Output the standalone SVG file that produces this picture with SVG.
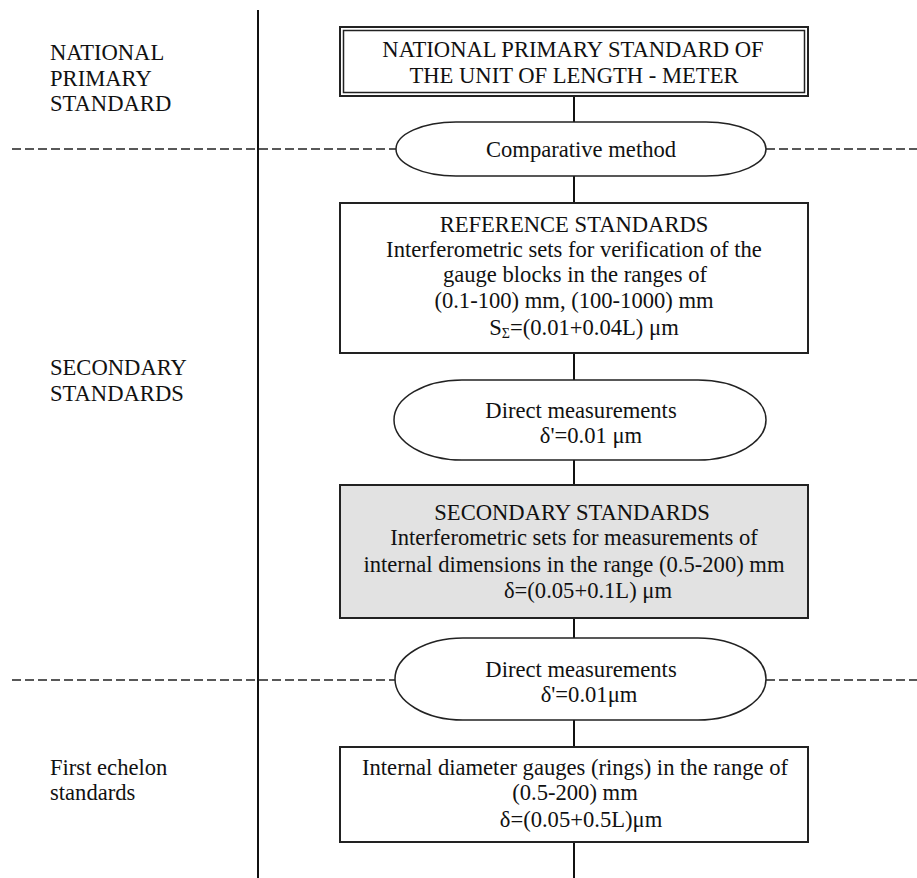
<svg xmlns="http://www.w3.org/2000/svg" width="917" height="878" viewBox="0 0 917 878" font-family="'Liberation Serif', 'Times New Roman', Times, 'DejaVu Serif', serif">
<style>
text{font-family:"Liberation Serif","Times New Roman",Times,"DejaVu Serif",serif;font-size:22.6px;fill:#111}
.c{text-anchor:middle}
.box{fill:#fff;stroke:#222;stroke-width:2}
.gray{fill:#e2e2e2;stroke:#222;stroke-width:2}
.line{stroke:#111;stroke-width:2;fill:none}
.dash{stroke:#222;stroke-width:1.6;stroke-dasharray:9 4;fill:none}
.term{fill:#fff;stroke:#222;stroke-width:1.5}
</style>
<rect width="917" height="878" fill="#fff"/>
<g id="connectors">
<line class="line" x1="258" y1="10" x2="258" y2="878"/>
<line class="dash" x1="12" y1="149" x2="396" y2="149"/>
<line class="dash" x1="766" y1="149" x2="917" y2="149"/>
<line class="dash" x1="12" y1="680" x2="395" y2="680"/>
<line class="dash" x1="766" y1="680" x2="917" y2="680"/>
<line class="line" x1="574" y1="96" x2="574" y2="122"/>
<line class="line" x1="574" y1="176" x2="574" y2="203"/>
<line class="line" x1="574" y1="353" x2="574" y2="380"/>
<line class="line" x1="574" y1="460" x2="574" y2="485"/>
<line class="line" x1="574" y1="618" x2="574" y2="638"/>
<line class="line" x1="574" y1="720" x2="574" y2="747"/>
<line class="line" x1="574" y1="842" x2="574" y2="878"/>
</g>
<g id="label-national">
<text x="50" y="60">NATIONAL</text>
<text x="50" y="86">PRIMARY</text>
<text x="50" y="111">STANDARD</text>
</g>
<g id="label-secondary">
<text x="50" y="375">SECONDARY</text>
<text x="50" y="401">STANDARDS</text>
</g>
<g id="label-first">
<text x="50" y="775">First echelon</text>
<text x="50" y="800">standards</text>
</g>
<g id="national-standard">
<rect x="340" y="27" width="468" height="69" fill="#fff" stroke="#222" stroke-width="2"/>
<rect x="343.5" y="30.5" width="461" height="62" fill="none" stroke="#222" stroke-width="1.5"/>
<text class="c" x="573" y="57">NATIONAL PRIMARY STANDARD OF</text>
<text class="c" x="574" y="83">THE UNIT OF LENGTH - METER</text>
</g>
<g id="comparative-method">
<rect class="term" x="396" y="122" width="370" height="54" rx="60" ry="27"/>
<text class="c" x="581" y="157">Comparative method</text>
</g>
<g id="reference-standards">
<rect class="box" x="340" y="203" width="468" height="150"/>
<text class="c" x="574" y="232">REFERENCE STANDARDS</text>
<text class="c" x="574" y="257">Interferometric sets for verification of the</text>
<text class="c" x="575" y="282">gauge blocks in the ranges of</text>
<text class="c" x="574" y="308">(0.1-100) mm, (100-1000) mm</text>
<text class="c" x="584" y="335">S<tspan font-size="14" dy="3">Σ</tspan><tspan dy="-3">=(0.01+0.04L) μm</tspan></text>
</g>
<g id="direct-measurements-1">
<rect class="term" x="394" y="380" width="372" height="80" rx="68" ry="40"/>
<text class="c" x="581" y="418">Direct measurements</text>
<text class="c" x="591" y="443">δ'=0.01 μm</text>
</g>
<g id="secondary-standards">
<rect class="gray" x="340" y="485" width="468" height="133"/>
<text class="c" x="572" y="520">SECONDARY STANDARDS</text>
<text class="c" x="574" y="545">Interferometric sets for measurements of</text>
<text class="c" x="574" y="572">internal dimensions in the range (0.5-200) mm</text>
<text class="c" x="588" y="598">δ=(0.05+0.1L) μm</text>
</g>
<g id="direct-measurements-2">
<rect class="term" x="395" y="638" width="371" height="82" rx="68" ry="41"/>
<text class="c" x="581" y="677">Direct measurements</text>
<text class="c" x="589" y="702">δ'=0.01μm</text>
</g>
<g id="first-echelon">
<rect class="box" x="340" y="747" width="468" height="95"/>
<text class="c" x="575" y="775">Internal diameter gauges (rings) in the range of</text>
<text class="c" x="575" y="800">(0.5-200) mm</text>
<text class="c" x="581" y="827">δ=(0.05+0.5L)μm</text>
</g>
</svg>
